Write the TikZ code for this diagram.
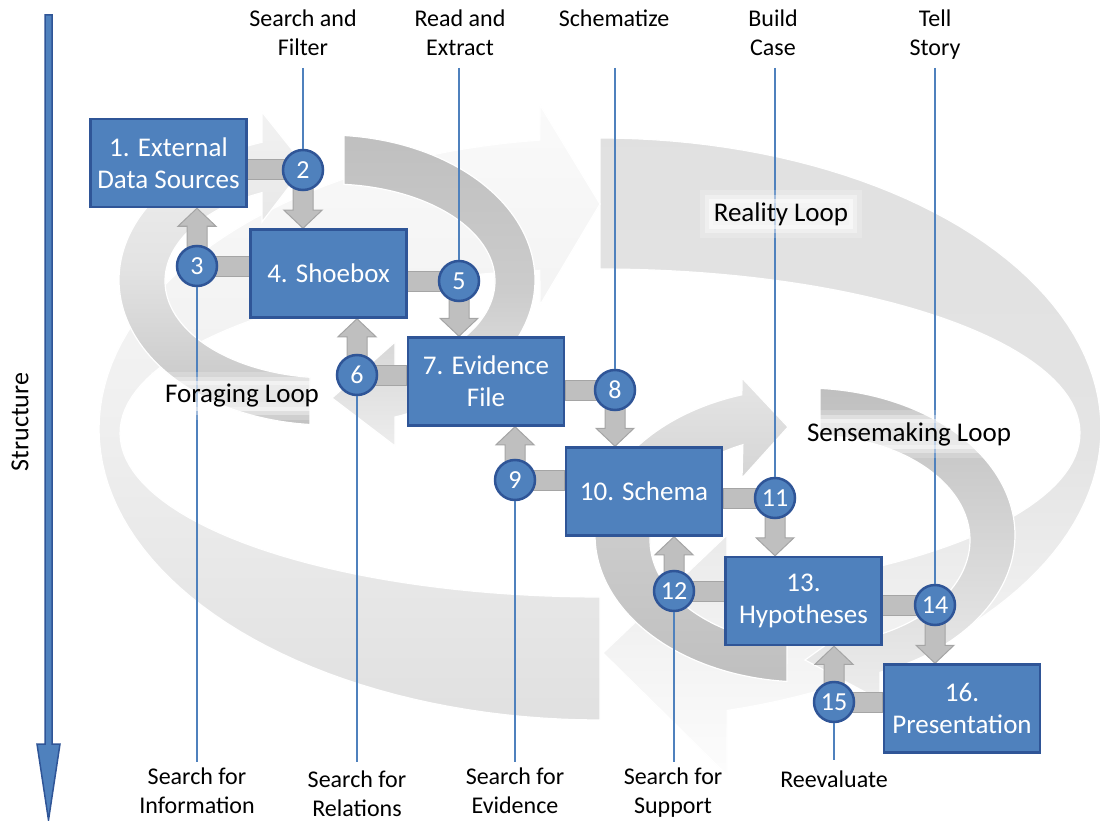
\documentclass[tikz,border=0pt]{standalone}
\usepackage{fontspec}
\setmainfont{Carlito}
\usetikzlibrary{calc}
\definecolor{boxblue}{HTML}{4F81BD}
\definecolor{boxedge}{HTML}{2F5597}
\definecolor{conngray}{HTML}{BFBFBF}
\definecolor{connedge}{HTML}{A5A5A5}
\tikzset{
  box/.style={rectangle, fill=boxblue, draw=boxedge, line width=2.5pt, minimum width=156pt, minimum height=88pt, inner sep=0pt, text=white, align=center, font=\fontsize{27}{32}\selectfont},
  num/.style={circle, fill=boxblue, draw=boxedge, line width=2.5pt, minimum size=40pt, inner sep=0pt, text=white, font=\fontsize{26}{30}\selectfont},
  lab/.style={align=center, font=\fontsize{24}{29}\selectfont, text=black, inner sep=0pt},
  looplab/.style={font=\fontsize{27}{32}\selectfont, fill=white, fill opacity=0.55, text opacity=1, inner xsep=5pt, inner ysep=3pt,
    preaction={draw=white, draw opacity=0.35, line width=8pt},
    preaction={draw=white, draw opacity=0.2, line width=18pt}},
  guide/.style={draw=boxblue, line width=1.2pt},
  connstyle/.style={fill=conngray, draw=connedge, line width=1pt},
  loopband/.style={draw=white, line width=1.2pt}
}
\newcommand{\connbar}[2]{%
  \path[connstyle] let \p1=(#1), \p2=(#2.center) in (\x1,\y2+10pt) rectangle (\x2,\y2-10pt);}
\newcommand{\downconn}[2]{%
  \path[connstyle] let \p1=(#1.center), \p2=(#2.north) in
   (\x1-10pt,\y1) -- (\x1-10pt,\y2+18pt) -- (\x1-19pt,\y2+18pt) -- (\x1,\y2) --
   (\x1+19pt,\y2+18pt) -- (\x1+10pt,\y2+18pt) -- (\x1+10pt,\y1) -- cycle;}
\newcommand{\upconn}[2]{%
  \path[connstyle] let \p1=(#1.center), \p2=(#2.south) in
   (\x1-10pt,\y1) -- (\x1-10pt,\y2-18pt) -- (\x1-19pt,\y2-18pt) -- (\x1,\y2) --
   (\x1+19pt,\y2-18pt) -- (\x1+10pt,\y2-18pt) -- (\x1+10pt,\y1) -- cycle;}
\begin{document}
\begin{tikzpicture}[x=1pt,y=-1pt]
\useasboundingbox (0,0) rectangle (1100,821);

% ---------- Reality loop ----------
\path[loopband, top color=white!88!black, bottom color=white!99!black, middle color=white!89.5!black]
  plot[domain=270:435.3, samples=80, variable=\t] ({600+501*cos(\t)},{429+291*sin(\t)})
  -- (727,775) -- (603,653) -- (727,535)
  -- plot[domain=434.66:270, samples=80, variable=\t] ({600+480*cos(\t)},{433+164*sin(\t)}) -- cycle;
\path[loopband, top color=white!98!black, bottom color=white!88!black, middle color=white!94!black]
  plot[domain=90:263.1, samples=80, variable=\t] ({600+501*cos(\t)},{429+291*sin(\t)})
  -- (540,105) -- (600,204) -- (540,305)
  -- plot[domain=262.8:90, samples=80, variable=\t] ({600+480*cos(\t)},{433+164*sin(\t)}) -- cycle;

% ---------- Foraging loop ----------
\path[loopband, top color=white!95!black, bottom color=white!76!black, middle color=white!89!black]
  plot[domain=94.7:251.8, samples=80, variable=\t] ({327+208*cos(\t)},{280+145*sin(\t)})
  -- (262,112) -- (305,166) -- (262,222)
  -- plot[domain=245.7:96.96, samples=80, variable=\t] ({330+165*cos(\t)},{281+97*sin(\t)}) -- cycle;
\path[loopband, top color=white!75!black, bottom color=white!93!black, middle color=white!80!black]
  plot[domain=274.7:430.9, samples=80, variable=\t] ({327+208*cos(\t)},{280+145*sin(\t)})
  -- (395,446) -- (332,398) -- (395,342)
  -- plot[domain=426.8:274.9, samples=80, variable=\t] ({330+165*cos(\t)},{281+97*sin(\t)}) -- cycle;

% ---------- Sensemaking loop ----------
\path[loopband, top color=white!90!black, bottom color=white!75!black, middle color=white!80!black]
  plot[domain=94.9:252.5, samples=80, variable=\t] ({805+210*cos(\t)},{535+147*sin(\t)})
  -- (742,378) -- (788,427) -- (742,478)
  -- plot[domain=245.2:98.3, samples=80, variable=\t] ({810+160*cos(\t)},{540+105*sin(\t)}) -- cycle;
\path[loopband, top color=white!75!black, bottom color=white!93!black, middle color=white!84!black]
  plot[domain=274.1:429.1, samples=80, variable=\t] ({805+210*cos(\t)},{535+147*sin(\t)})
  -- (880,700) -- (805,660) -- (880,606)
  -- plot[domain=424.06:273.6, samples=80, variable=\t] ({810+160*cos(\t)},{540+105*sin(\t)}) -- cycle;

% ---------- Structure arrow ----------
\path[fill=boxblue, draw=boxedge, line width=1.5pt]
  (45,15) -- (52,15) -- (52,744) -- (60,744) -- (48.5,820) -- (37,744) -- (45,744) -- cycle;
\node[lab, rotate=90, font=\fontsize{26}{30}\selectfont] (struct) at (20,422) {Structure};

% ---------- node positions ----------
\coordinate (q1) at (168.5,163);
\coordinate (q4) at (328.5,273.5);
\coordinate (q7) at (486,381.5);
\coordinate (q10) at (644,491.5);
\coordinate (q13) at (803.5,601);
\coordinate (q16) at (962,708.5);
\path
  (q1) node[box] (b1) {1. External\\Data Sources}
  (q4) node[box] (b4) {4. Shoebox}
  (q7) node[box] (b7) {7. Evidence\\File}
  (q10) node[box] (b10) {10. Schema}
  (q13) node[box] (b13) {13.\\Hypotheses}
  (q16) node[box] (b16) {16.\\Presentation};

\coordinate (p2) at (303,170);
\coordinate (p3) at (197,266);
\coordinate (p5) at (459,281);
\coordinate (p6) at (357,375);
\coordinate (p8) at (615,390);
\coordinate (p9) at (515,480);
\coordinate (p11) at (775,498);
\coordinate (p12) at (674,591);
\coordinate (p14) at (935,605);
\coordinate (p15) at (834,702);

% ---------- gray connectors ----------
\connbar{b1.east}{p2}   \downconn{p2}{b4}
\connbar{b4.west}{p3}   \upconn{p3}{b1}
\connbar{b4.east}{p5}   \downconn{p5}{b7}
\connbar{b7.west}{p6}   \upconn{p6}{b4}
\connbar{b7.east}{p8}   \downconn{p8}{b10}
\connbar{b10.west}{p9}  \upconn{p9}{b7}
\connbar{b10.east}{p11} \downconn{p11}{b13}
\connbar{b13.west}{p12} \upconn{p12}{b10}
\connbar{b13.east}{p14} \downconn{p14}{b16}
\connbar{b16.west}{p15} \upconn{p15}{b13}

% boxes again, on top of the connectors
\path
  (q1) node[box] {1. External\\Data Sources}
  (q4) node[box] {4. Shoebox}
  (q7) node[box] {7. Evidence\\File}
  (q10) node[box] {10. Schema}
  (q13) node[box] {13.\\Hypotheses}
  (q16) node[box] {16.\\Presentation};

% ---------- numbered circles ----------
\node[num] (c2) at (p2) {2};
\node[num] (c3) at (p3) {3};
\node[num] (c5) at (p5) {5};
\node[num] (c6) at (p6) {6};
\node[num] (c8) at (p8) {8};
\node[num] (c9) at (p9) {9};
\node[num] (c11) at (p11) {11};
\node[num] (c12) at (p12) {12};
\node[num] (c14) at (p14) {14};
\node[num] (c15) at (p15) {15};

% ---------- guide lines ----------
\coordinate (t2) at (303,68);
\coordinate (t5) at (459,68);
\coordinate (t8) at (615,68);
\coordinate (t11) at (775,68);
\coordinate (t14) at (935,68);
\coordinate (e3) at (197,762);
\coordinate (e6) at (357,762);
\coordinate (e9) at (515,762);
\coordinate (e12) at (674,762);
\coordinate (e15) at (834,760);
\draw[guide] (t2) -- (c2.north);
\draw[guide] (t5) -- (c5.north);
\draw[guide] (t8) -- (c8.north);
\draw[guide] (t11) -- (c11.north);
\draw[guide] (t14) -- (c14.north);
\draw[guide] (c3.south) -- (e3);
\draw[guide] (c6.south) -- (e6);
\draw[guide] (c9.south) -- (e9);
\draw[guide] (c12.south) -- (e12);
\draw[guide] (c15.south) -- (e15);

% ---------- labels ----------
\node[lab] (l2) at (303,35) {Search and\strut\\Filter\strut};
\node[lab] (l5) at (460,35) {Read and\strut\\Extract\strut};
\node[lab] (l8) at (614,20.7) {Schematize\strut};
\node[lab] (l11) at (773,35) {Build\strut\\Case\strut};
\node[lab] (l14) at (935,35) {Tell\strut\\Story\strut};
\node[lab] (l3) at (197,793) {Search for\strut\\Information\strut};
\node[lab] (l6) at (357,796) {Search for\strut\\Relations\strut};
\node[lab] (l9) at (515,793) {Search for\strut\\Evidence\strut};
\node[lab] (l12) at (673,793) {Search for\strut\\Support\strut};
\node[lab] (l15) at (834,782) {Reevaluate\strut};

\node[looplab] (lreal) at (781,214) {Reality Loop};
\node[looplab] (lforage) at (242,396) {Foraging Loop};
\node[looplab] (lsense) at (909,434) {Sensemaking Loop};
\end{tikzpicture}
\end{document}
